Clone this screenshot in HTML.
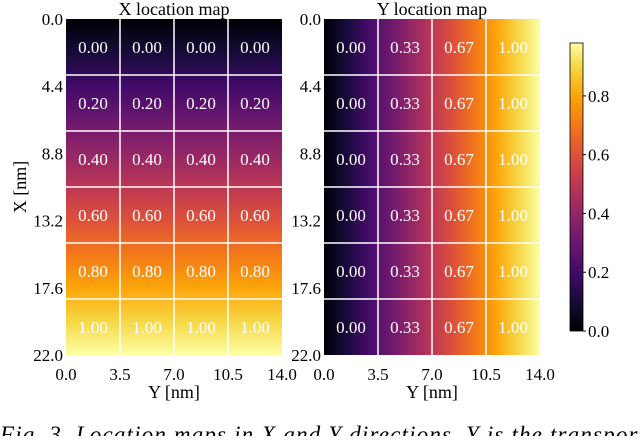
<!DOCTYPE html>
<html><head><meta charset="utf-8"><style>
body{margin:0;background:#fff;width:640px;height:436px;overflow:hidden}
svg text{font-family:"Liberation Serif",serif;}
</style></head><body>
<svg id="c" width="640" height="436">
<defs>
<linearGradient id="gv" x1="0" y1="0" x2="0" y2="1"></linearGradient>
<linearGradient id="gh" x1="0" y1="0" x2="1" y2="0"></linearGradient>
<linearGradient id="gc" x1="0" y1="1" x2="0" y2="0"></linearGradient>
</defs>
</svg>
<script>
const xRowValues=[0.00,0.20,0.40,0.60,0.80,1.00];
const yColValues=[0.00,0.33,0.67,1.00];
const xTickLabels=["0.0","4.4","8.8","13.2","17.6","22.0"];
const yTickLabels=["0.0","3.5","7.0","10.5","14.0"];
const cbTicks=[0.0,0.2,0.4,0.6,0.8];
const cbMax=0.98;
const NS="http://www.w3.org/2000/svg";
const svg=document.getElementById('c');
const inferno=["#000004","#160b39","#420a68","#6a176e","#932667","#bc3754","#dd513a","#f37819","#fca50a","#f6d746","#fcffa4"];
function fillGrad(id,maxv){const g=document.getElementById(id);inferno.forEach((c,i)=>{const v=i/10;if(v>maxv+0.1)return;const s=document.createElementNS(NS,'stop');s.setAttribute('offset',Math.min(1,v/maxv));s.setAttribute('stop-color',c);g.appendChild(s);});}
fillGrad('gv',1);fillGrad('gh',1);fillGrad('gc',cbMax);
function el(t,a,p){const e=document.createElementNS(NS,t);for(const k in a)e.setAttribute(k,a[k]);(p||svg).appendChild(e);return e;}
const T=19,B=355,nR=xRowValues.length,nC=yColValues.length;
const rowH=(B-T)/nR;
function panel(x0,x1,title,mode,name){
  const g=el('g',{});
  
  
  const r=el('rect',{x:x0,y:T,width:x1-x0,height:B-T,fill:mode==='x'?'url(#gv)':'url(#gh)'},g);
  
  
  const colW=(x1-x0)/nC;
  for(let i=1;i<nC;i++){const l=el('line',{x1:x0+i*colW,x2:x0+i*colW,y1:T,y2:B,stroke:'#fff','stroke-width':1.5},g);
    }
  for(let j=1;j<nR;j++){const l=el('line',{x1:x0,x2:x1,y1:T+j*rowH,y2:T+j*rowH,stroke:'#fff','stroke-width':1.5},g);
    }
  for(let j=0;j<nR;j++)for(let i=0;i<nC;i++){
    const v=mode==='x'?xRowValues[j]:yColValues[i];
    const t=el('text',{x:x0+(i+0.5)*colW,y:T+(j+0.5)*rowH+6,'text-anchor':'middle','font-size':17,fill:'#fff'},g);
    t.textContent=v.toFixed(2);
    
    
  }
  xTickLabels.forEach((s,j)=>{const t=el('text',{x:x0-3,y:T+j*(B-T)/(xTickLabels.length-1)+6,'text-anchor':'end','font-size':17,fill:'#000'},g);
    t.textContent=s;});
  yTickLabels.forEach((s,i)=>{const t=el('text',{x:x0+i*(x1-x0)/(yTickLabels.length-1),y:380,'text-anchor':'middle','font-size':17,fill:'#000'},g);
    t.textContent=s;});
  const tt=el('text',{x:(x0+x1)/2,y:15,'text-anchor':'middle','font-size':18,fill:'#000'},g);
  tt.textContent=title;
  const xl=el('text',{x:(x0+x1)/2,y:398,'text-anchor':'middle','font-size':18,fill:'#000'},g);
  xl.textContent='Y [nm]';
}
panel(66,282,'X location map','x','x-location-map');
panel(324,540,'Y location map','y','y-location-map');
const yl=el('text',{x:0,y:0,'text-anchor':'middle','font-size':18,fill:'#000',transform:'translate(26,187) rotate(-90)'});
yl.textContent='X [nm]';
const cbT=43,cbB=331,cbX=570,cbW=13;
const cb=el('rect',{x:cbX,y:cbT,width:cbW,height:cbB-cbT,fill:'url(#gc)',stroke:'#000','stroke-width':0.8});

cbTicks.forEach(v=>{const y=cbB-(v/cbMax)*(cbB-cbT);
  const l=el('line',{x1:cbX+cbW,x2:cbX+cbW+3,y1:y,y2:y,stroke:'#000'});
  const t=el('text',{x:cbX+cbW+5,y:y+6,'font-size':17,fill:'#000'});t.textContent=v.toFixed(1);
  });
const cap=el('text',{x:0,y:442,'font-size':23,'font-style':'italic',fill:'#000',textLength:645,lengthAdjust:'spacing'});
cap.textContent='Fig. 3. Location maps in X and Y directions. Y is the transport';

</script>
</body></html>
